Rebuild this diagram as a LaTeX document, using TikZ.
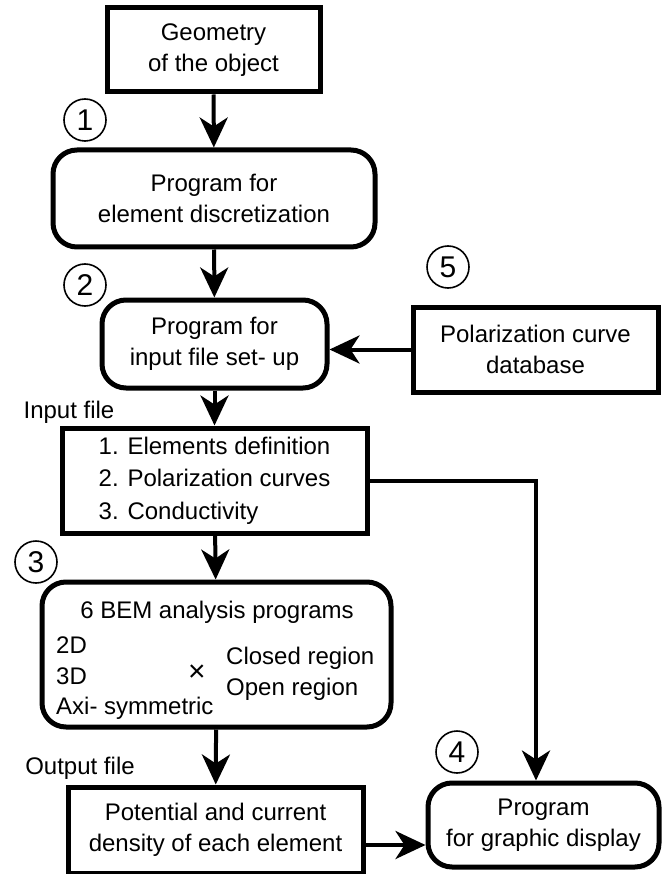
\documentclass[tikz,border=0pt]{standalone}
\usepackage{fontspec}
\setmainfont{Liberation Sans}
\usetikzlibrary{arrows.meta,calc}

\begin{document}
\begin{tikzpicture}[x=1pt,y=-1pt,>={Stealth[length=30pt,width=28pt,inset=9pt]},
    box/.style={draw,line width=5pt,inner sep=0pt,align=center,font=\fontsize{24}{31}\selectfont},
    rbox/.style={box,rounded corners=24pt},
    num/.style={circle,draw,line width=1.6pt,minimum size=42pt,inner sep=0pt,font=\fontsize{30}{30}\selectfont},
    lbl/.style={inner sep=0pt,font=\fontsize{24}{31}\selectfont},
    flow/.style={->,line width=4pt}]
        \useasboundingbox (0,0) rectangle (662,874);
        \node[box,minimum width=213pt,minimum height=84pt](geo) at (213.5,50){Geometry\\of the object};
        \node[rbox,minimum width=322pt,minimum height=97pt](elem) at (214,198.5){Program for\\element discretization};
        \node[rbox,minimum width=225pt,minimum height=88pt](setup) at (214.5,344){Program for\\input file set- up};
        \node[box,minimum width=245pt,minimum height=85pt](db) at (535.5,349.5){Polarization curve\\database};
        \node[box,minimum width=305pt,minimum height=105pt,align=left,font=\fontsize{24}{32.5}\selectfont](input) at (214.5,480.5){1. Elements definition\\2. Polarization curves\\3. Conductivity};
        \node[rbox,minimum width=349pt,minimum height=145pt](bem) at (216.5,654.5){};
        \node[box,minimum width=295pt,minimum height=86pt](output) at (215.5,830){Potential and current\\density of each element};
        \node[rbox,minimum width=231pt,minimum height=84pt](graph) at (543.5,825){Program\\for graphic display};
        % inside the BEM box
        \node[lbl](bemtitle) at (217,612){6 BEM analysis programs};
        \node[lbl,anchor=west](twod) at (56,645){2D};
        \node[lbl,anchor=west](threed) at (56,676){3D};
        \node[lbl,anchor=west](axi) at (56,708){Axi- symmetric};
        \node[lbl,font=\fontsize{30}{30}\selectfont](times) at (197,673){×};
        \node[lbl,anchor=west](closed) at (226,658){Closed region};
        \node[lbl,anchor=west](open) at (226,689){Open region};
        % labels and numbers
        \node[lbl](inlabel) at (69,412){Input file};
        \node[lbl](outlabel) at (80,768){Output file};
        \node[num](n1) at (85,120){1};
        \node[num](n2) at (85,285){2};
        \node[num](n3) at (36,562){3};
        \node[num](n4) at (457,752){4};
        \node[num](n5) at (448,267){5};
        % connectors
        \coordinate (turn) at (536,480.5);
        \coordinate (outrow) at ($(output.east)+(0,15)$);
        \draw[flow](geo)--(elem);
        \draw[flow](elem)--(setup);
        \draw[flow](db.west)--(db.west-|setup.east);
        \draw[flow](setup)--(input);
        \draw[flow](input)--(bem);
        \draw[flow](bem)--(output);
        \draw[flow](input.east)--(turn)--(turn|-graph.north);
        \draw[flow](outrow)--(outrow-|graph.west);
    \end{tikzpicture}
\end{document}
